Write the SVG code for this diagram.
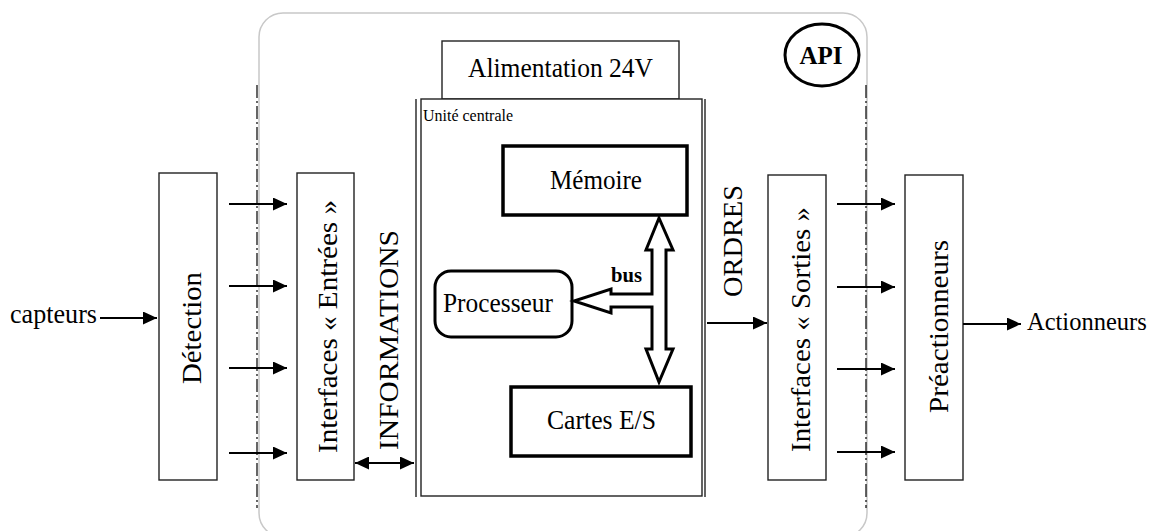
<svg xmlns="http://www.w3.org/2000/svg" width="1155" height="531" viewBox="0 0 1155 531">
<style>
text{font-family:'Liberation Serif','DejaVu Serif',serif;fill:#000}
.t{font-size:27.5px}
.box{fill:#fff;stroke:#222;stroke-width:1.4}
.thick{fill:#fff;stroke:#000;stroke-width:3.5}
.ln{stroke:#000;stroke-width:1.8;fill:none}
.dd{stroke:#000;stroke-width:1.2;stroke-dasharray:13,3,2,3;fill:none}
</style>
<defs>
<marker id="ah" viewBox="0 0 14 13" refX="14" refY="6.5" markerWidth="14" markerHeight="13" markerUnits="userSpaceOnUse" orient="auto-start-reverse">
<path d="M0,0 L14,6.5 L0,13 Z" fill="#000"/>
</marker>
</defs>
<g font-family="Liberation Serif, DejaVu Serif, serif">
<g id="api">
<rect x="259" y="13" width="608" height="524" rx="24" fill="none" stroke="#c8c8c8" stroke-width="1.5"/>
<ellipse cx="822" cy="55" rx="37" ry="31" fill="none" stroke="#000" stroke-width="3"/>
<text x="821" y="64" text-anchor="middle" font-size="26" font-weight="bold" textLength="43" lengthAdjust="spacingAndGlyphs">API</text>
</g>
<g id="boundaries">
<line class="dd" x1="257" y1="85" x2="257" y2="508"/>
<line class="dd" x1="866" y1="85" x2="866" y2="508"/>
</g>
<g id="detection">
<rect class="box" x="159" y="173" width="58" height="307"/>
<text class="t" transform="translate(201,328) rotate(-90)" text-anchor="middle" textLength="112" lengthAdjust="spacingAndGlyphs">Détection</text>
</g>
<g id="interfaces-entrees">
<rect class="box" x="297" y="173" width="57" height="307"/>
<text class="t" transform="translate(337,326.5) rotate(-90)" text-anchor="middle" textLength="253" lengthAdjust="spacingAndGlyphs">Interfaces « Entrées »</text>
</g>
<g id="informations">
<text class="t" transform="translate(398,340) rotate(-90)" text-anchor="middle" textLength="220" lengthAdjust="spacingAndGlyphs">INFORMATIONS</text>
</g>
<g id="alimentation">
<rect class="box" x="442" y="41" width="237" height="58"/>
<text class="t" x="560.5" y="77" text-anchor="middle" textLength="185" lengthAdjust="spacingAndGlyphs">Alimentation 24V</text>
</g>
<g id="unite-centrale">
<line class="box" x1="416" y1="99" x2="416" y2="497"/>
<line class="box" x1="705" y1="99" x2="705" y2="497"/>
<rect class="box" x="421" y="99" width="281" height="397" fill="none"/>
<text x="423" y="121" font-size="17" textLength="90" lengthAdjust="spacingAndGlyphs">Unité centrale</text>
</g>
<g id="memoire">
<rect class="thick" x="503" y="146" width="184" height="69"/>
<text class="t" x="596" y="189" text-anchor="middle" textLength="92" lengthAdjust="spacingAndGlyphs">Mémoire</text>
</g>
<g id="processeur">
<rect x="435" y="271" width="137" height="66" rx="16" fill="#fff" stroke="#000" stroke-width="3"/>
<text class="t" x="443" y="312" textLength="110" lengthAdjust="spacingAndGlyphs">Processeur</text>
</g>
<g id="cartes">
<rect class="thick" x="511" y="387" width="180" height="69"/>
<text class="t" x="601.5" y="429" text-anchor="middle" textLength="109" lengthAdjust="spacingAndGlyphs">Cartes E/S</text>
</g>
<g id="bus">
<path d="M659,218 L673,250 L666,250 L666,349 L673,349 L659,382 L646,349 L652,349 L652,307 L611,307 L611,313 L574,301 L611,289 L611,294 L652,294 L652,250 L646,250 Z" fill="#fff" stroke="#000" stroke-width="3" stroke-linejoin="miter"/>
<text x="611" y="282" font-size="21" font-weight="bold" textLength="31" lengthAdjust="spacingAndGlyphs">bus</text>
</g>
<g id="ordres">
<text class="t" transform="translate(742,241) rotate(-90)" text-anchor="middle" textLength="112" lengthAdjust="spacingAndGlyphs">ORDRES</text>
</g>
<g id="interfaces-sorties">
<rect class="box" x="768" y="175" width="58" height="305"/>
<text class="t" transform="translate(810,329.5) rotate(-90)" text-anchor="middle" textLength="245" lengthAdjust="spacingAndGlyphs">Interfaces « Sorties »</text>
</g>
<g id="preactionneurs">
<rect class="box" x="905" y="175" width="58" height="305"/>
<text class="t" transform="translate(948,326.5) rotate(-90)" text-anchor="middle" textLength="173" lengthAdjust="spacingAndGlyphs">Préactionneurs</text>
</g>
<g id="capteurs">
<text class="t" x="10" y="323" textLength="87" lengthAdjust="spacingAndGlyphs">capteurs</text>
</g>
<g id="actionneurs">
<text x="1027" y="330" font-size="24.5">Actionneurs</text>
</g>
</g>
<g id="connectors">
<line class="ln" x1="100" y1="318" x2="157" y2="318" marker-end="url(#ah)"/>
<line class="ln" x1="229" y1="204" x2="287" y2="204" marker-end="url(#ah)"/>
<line class="ln" x1="229" y1="286" x2="287" y2="286" marker-end="url(#ah)"/>
<line class="ln" x1="229" y1="368" x2="287" y2="368" marker-end="url(#ah)"/>
<line class="ln" x1="229" y1="453" x2="287" y2="453" marker-end="url(#ah)"/>
<line class="ln" x1="355" y1="463" x2="414" y2="463" marker-start="url(#ah)" marker-end="url(#ah)"/>
<line class="ln" x1="707" y1="323" x2="767" y2="323" marker-end="url(#ah)"/>
<line class="ln" x1="837" y1="204" x2="895" y2="204" marker-end="url(#ah)"/>
<line class="ln" x1="837" y1="287" x2="895" y2="287" marker-end="url(#ah)"/>
<line class="ln" x1="837" y1="369" x2="895" y2="369" marker-end="url(#ah)"/>
<line class="ln" x1="837" y1="452" x2="895" y2="452" marker-end="url(#ah)"/>
<line class="ln" x1="963" y1="324" x2="1021" y2="324" marker-end="url(#ah)"/>
</g>
</svg>
